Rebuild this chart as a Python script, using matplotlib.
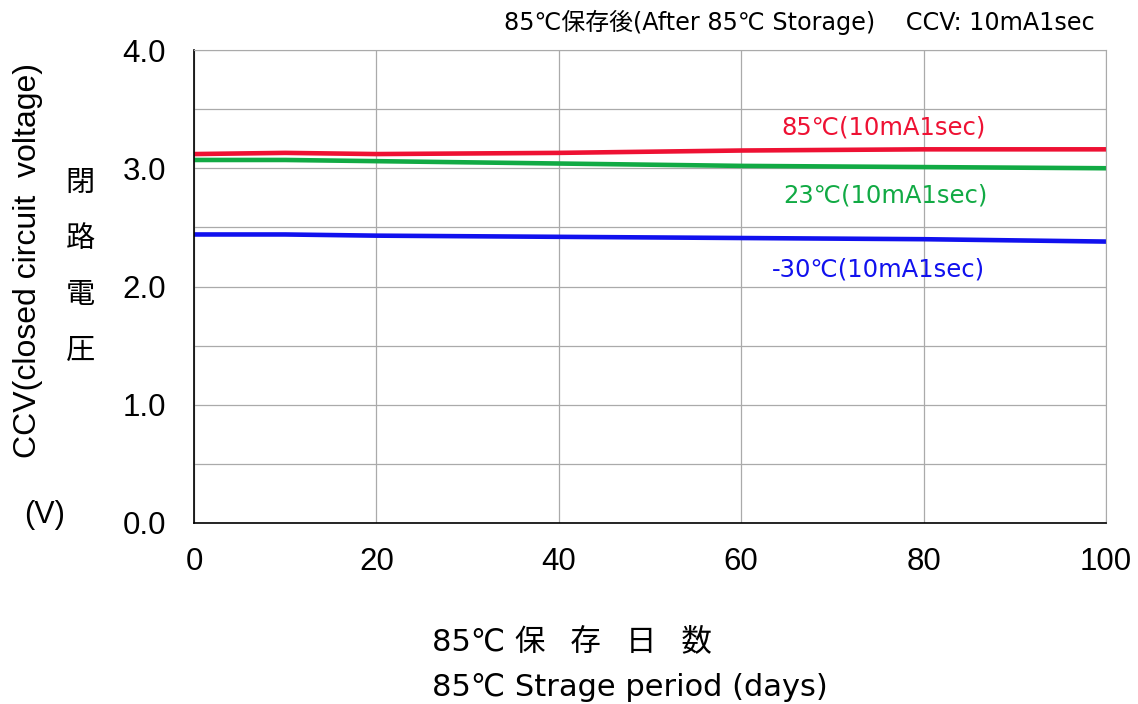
import matplotlib
matplotlib.use("Agg")
import matplotlib.pyplot as plt
import numpy as np

plt.rcParams['font.family'] = ['Liberation Sans', 'Noto Sans CJK JP', 'DejaVu Sans']

# 保存日数
days = [0, 10, 20, 40, 60, 80, 100]
# 閉路電圧 (V)
ccv_85 = [3.12, 3.13, 3.12, 3.13, 3.15, 3.16, 3.16]
ccv_23 = [3.07, 3.07, 3.06, 3.04, 3.02, 3.01, 3.00]
ccv_m30 = [2.44, 2.44, 2.43, 2.42, 2.41, 2.40, 2.38]

labels = ['85℃(10mA1sec)', '23℃(10mA1sec)', '-30℃(10mA1sec)']
colors = ['#ee1133', '#11aa44', '#1111ee']
xticks = [0, 20, 40, 60, 80, 100]
yticks = [0.0, 1.0, 2.0, 3.0, 4.0]

jp = ['Noto Sans CJK JP', 'DejaVu Sans']
wide = ['DejaVu Sans', 'Noto Sans CJK JP']

fig = plt.figure(figsize=(11.38, 7.04), dpi=100)
ax = fig.add_axes([194 / 1138, 1 - 523 / 704, (1106 - 194) / 1138, (523 - 50) / 704])

for y, c in zip([ccv_85, ccv_23, ccv_m30], colors):
    ax.plot(days, y, color=c, lw=3.3, solid_capstyle='butt')

ax.set_xlim(0, 100)
ax.set_ylim(0, 4)
ax.set_xticks(xticks)
ax.set_yticks(yticks)
ax.set_yticklabels([f'{v:.1f}' for v in yticks])
ax.set_yticks(np.arange(0.5, 4, 1.0), minor=True)
ax.tick_params(axis='both', which='major', labelsize=22.5, length=0)
ax.tick_params(axis='y', which='minor', length=0)
ax.tick_params(axis='y', pad=20)
ax.tick_params(axis='x', pad=17)
ax.grid(True, which='both', color='#aaaaaa', lw=0.9)
ax.set_axisbelow(True)
for s in ['top', 'right']:
    ax.spines[s].set_color('#aaaaaa')
for s in ['left', 'bottom']:
    ax.spines[s].set_color('black')
    ax.spines[s].set_linewidth(1.2)

# 系列ラベル
for lab, c, (px, py) in zip(labels, colors, [(884, 127), (885, 196), (878, 270)]):
    fig.text(px / 1138, 1 - py / 704, lab, color=c, fontsize=17.5, family=wide,
             ha='center', va='center')

fig.text(1095 / 1138, 1 - 22 / 704, '85℃保存後(After 85℃ Storage)    CCV: 10mA1sec',
         fontsize=17.2, family=wide, ha='right', va='center')

# 縦軸ラベル
fig.text(28 / 1138, 1 - 260 / 704, 'CCV(closed circuit  voltage)', rotation=90,
         fontsize=23, ha='center', va='center')
for i, ch in enumerate('閉路電圧'):
    fig.text(80 / 1138, 1 - (183 + i * 56) / 704, ch, fontsize=21, family=jp,
             ha='center', va='center')
fig.text(45 / 1138, 1 - 515 / 704, '(V)', fontsize=22, ha='center', va='center')

# 横軸ラベル
fig.text(432 / 1138, 1 - 642 / 704, '85℃ 保\u2002 存\u2002 日\u2002 数', fontsize=22,
         family=wide, ha='left', va='center')
fig.text(432 / 1138, 1 - 688 / 704, '85℃ Strage period (days)', fontsize=22, family=wide,
         ha='left', va='center')

fig.savefig('out.png', dpi=100)
